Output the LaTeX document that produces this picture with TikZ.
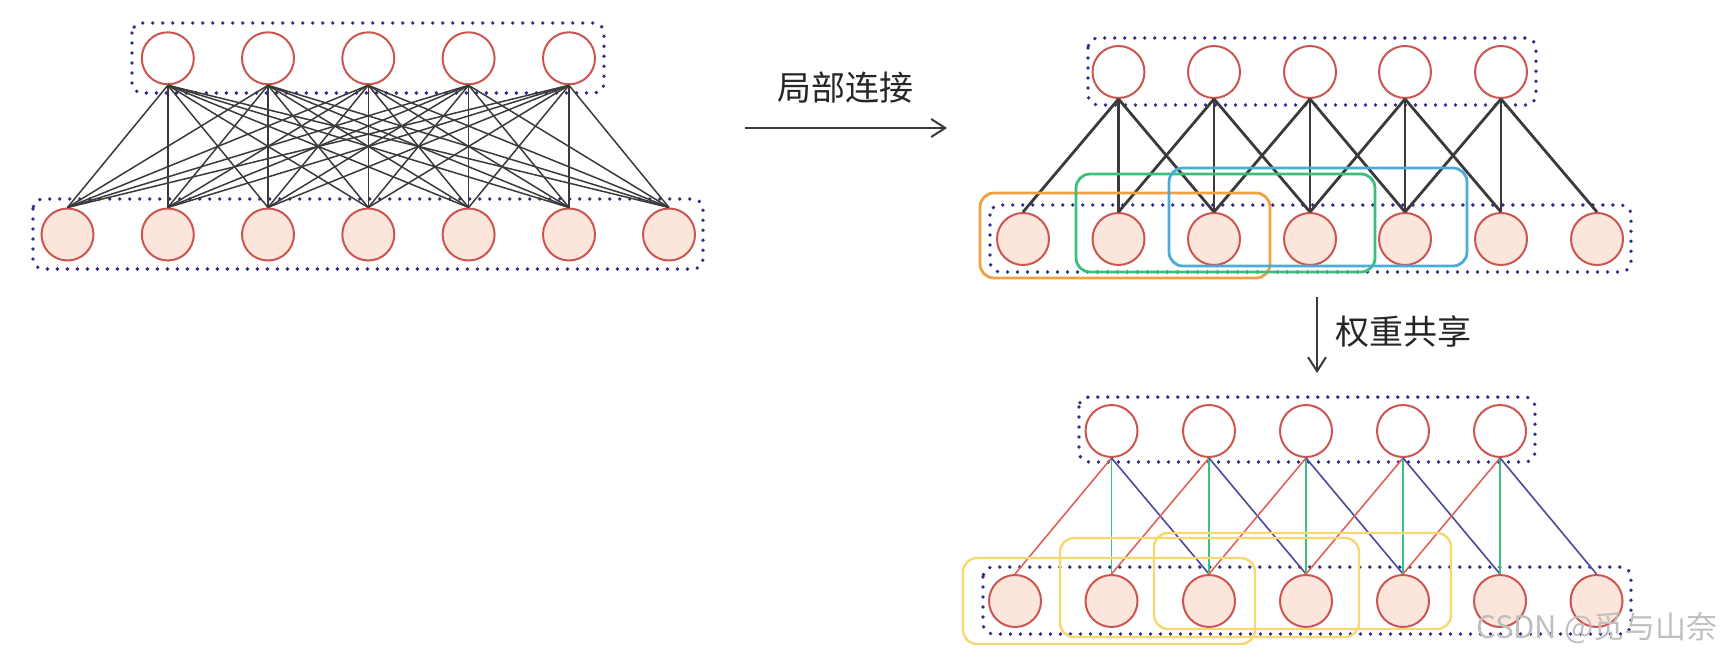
\documentclass[tikz,border=0pt]{standalone}
\usepackage{fontspec}
\newfontfamily\cjk{Noto Sans CJK SC}
\usetikzlibrary{arrows.meta}
\definecolor{cstroke}{HTML}{CC5550}
\definecolor{cfill}{HTML}{FCE6DC}
\definecolor{cnavy}{HTML}{2E2E8A}
\definecolor{corange}{HTML}{F0A040}
\definecolor{cgreenbox}{HTML}{3CBF78}
\definecolor{cbluebox}{HTML}{4BAAD6}
\definecolor{cyellow}{HTML}{F6D870}
\definecolor{lred}{HTML}{E0605A}
\definecolor{lgreen}{HTML}{3CC080}
\definecolor{lblue}{HTML}{4A4A9A}
\definecolor{lgray}{HTML}{3A3A3A}
\tikzset{
  topn/.style={circle, draw=cstroke, line width=1pt, minimum size=26pt, inner sep=0pt, fill=white},
  botn/.style={topn, fill=cfill},
  dotbox/.style={draw=cnavy, line width=1.9pt, dash pattern=on 0pt off 5pt, line cap=round, rounded corners=5pt},
  fulllink/.style={draw=lgray, line width=0.75pt},
  loclink/.style={draw=lgray, line width=1.4pt},
  cbox/.style={line width=1.4pt, rounded corners=7pt},
  lbl/.style={font=\cjk\fontsize{17pt}{20pt}\selectfont, text=black!85, inner sep=0pt},
  bigarrow/.style={draw=lgray, line width=1pt, -{Straight Barb[length=7pt,width=9pt,line width=1pt]}}
}
\begin{document}
\begin{tikzpicture}[x=0.5pt,y=-0.5pt]
\useasboundingbox (0,0) rectangle (1722,658);
% ---------------- left panel: full connection
\draw[dotbox] (132,23) rectangle (604,93);
\draw[dotbox] (33,199) rectangle (703,269);
\foreach \i/\x in {1/67.5,2/167.8,3/268,4/368.3,5/468.6,6/569,7/669}
  \node[botn] (lb\i) at (\x,234.5) {};
\foreach \i/\x in {1/167.8,2/268,3/368.3,4/468.6,5/569}
  \node[topn] (lt\i) at (\x,58.3) {};
\foreach \i in {1,...,5}
  \foreach \j in {1,...,7}
    \draw[fulllink] (lt\i.south) -- (lb\j.north);
% arrow 1
\coordinate (a1s) at (745,128);
\coordinate (a1e) at (947,128);
\draw[bigarrow] (a1s) -- (a1e);
\node[lbl] (t1) at (845,88) {局部连接};
% ---------------- right top panel: local connection
\draw[dotbox] (1088,38) rectangle (1536,105);
\draw[dotbox] (990,205) rectangle (1631,272);
\foreach \i/\x in {1/1023,2/1118.5,3/1214,4/1310,5/1405,6/1501,7/1597}
  \node[botn] (rb\i) at (\x,239) {};
\foreach \i/\x in {1/1118.5,2/1214,3/1310,4/1405,5/1501}
  \node[topn] (rt\i) at (\x,72) {};
\foreach \i in {1,...,5}{
  \pgfmathtruncatemacro{\ja}{\i+1}
  \pgfmathtruncatemacro{\jb}{\i+2}
  \draw[loclink] (rt\i.south) -- (rb\i.north);
  \draw[loclink] (rt\i.south) -- (rb\ja.north);
  \draw[loclink] (rt\i.south) -- (rb\jb.north);
}
\draw[cbox, draw=corange] (980,193) rectangle (1270,278);
\draw[cbox, draw=cgreenbox] (1076,174) rectangle (1375,272);
\draw[cbox, draw=cbluebox] (1169,168) rectangle (1467,266);
% arrow 2
\coordinate (a2s) at (1317,297);
\coordinate (a2e) at (1317,373);
\draw[bigarrow] (a2s) -- (a2e);
\node[lbl] (t2) at (1403,332) {权重共享};
% ---------------- right bottom panel: weight sharing
\draw[dotbox] (1079,397) rectangle (1535,462);
\draw[dotbox] (983,567) rectangle (1631,634);
\foreach \i/\x in {1/1015,2/1111.5,3/1209,4/1306,5/1403,6/1500,7/1596.5}
  \node[botn] (sb\i) at (\x,601) {};
\foreach \i/\x in {1/1111.5,2/1209,3/1306,4/1403,5/1500}
  \node[topn] (st\i) at (\x,431) {};
\foreach \i in {1,...,5}{
  \pgfmathtruncatemacro{\ja}{\i+1}
  \pgfmathtruncatemacro{\jb}{\i+2}
  \draw[draw=lred, line width=0.8pt] (st\i.south) -- (sb\i.north);
  \draw[draw=lgreen, line width=0.8pt] (st\i.south) -- (sb\ja.north);
  \draw[draw=lblue, line width=0.8pt] (st\i.south) -- (sb\jb.north);
}
\draw[cbox, draw=cyellow, line width=1.2pt] (963,558) rectangle (1255,644);
\draw[cbox, draw=cyellow, line width=1.2pt] (1060,538) rectangle (1359,637);
\draw[cbox, draw=cyellow, line width=1.2pt] (1154,533) rectangle (1451,629);
% watermark
\node[font=\cjk\fontsize{15.5pt}{18pt}\selectfont, text=black!25, anchor=east, inner sep=0pt] (wm) at (1718,628) {CSDN @觅与山奈};
\end{tikzpicture}
\end{document}
